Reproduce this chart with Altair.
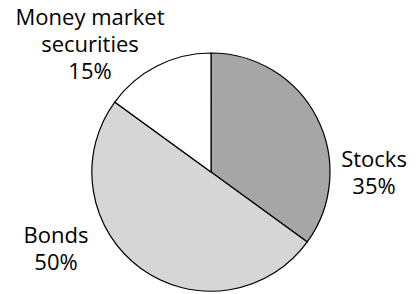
import altair as alt
import pandas as pd

categories = ["Stocks", "Bonds", "Money market\nsecurities"]
shares = [35, 50, 15]
labels = ["Stocks\n35%", "Bonds\n50%", "Money market\nsecurities\n15%"]
colors = ["#a6a6a6", "#d6d6d6", "#ffffff"]

df = pd.DataFrame({
    "category": categories,
    "share": shares,
    "label": labels,
    "order": list(range(len(categories))),
})

pie = alt.Chart(df).mark_arc(outerRadius=119, stroke="black", strokeWidth=1.2).encode(
    theta=alt.Theta("share:Q", stack=True),
    order=alt.Order("order:Q"),
    color=alt.Color("category:N", scale=alt.Scale(domain=categories, range=colors), legend=None),
    x=alt.value(203),
    y=alt.value(164),
)

label_pos = {"Stocks": (366, 159), "Bonds": (48, 235), "Money market\nsecurities": (82, 17)}
texts = []
for cat in categories:
    px, py = label_pos[cat]
    texts.append(
        alt.Chart(df).transform_filter(alt.datum.category == cat).mark_text(
            font="Open Sans", fontSize=22, lineBreak="\n", lineHeight=27,
            align="center", baseline="alphabetic", color="black",
        ).encode(text="label:N", x=alt.value(px), y=alt.value(py))
    )

chart = alt.layer(pie, *texts).properties(
    width=402, height=286, padding=0, autosize="none"
).configure_view(stroke=None)

chart.save("out.html", embed_options={"renderer": "svg", "actions": False})
